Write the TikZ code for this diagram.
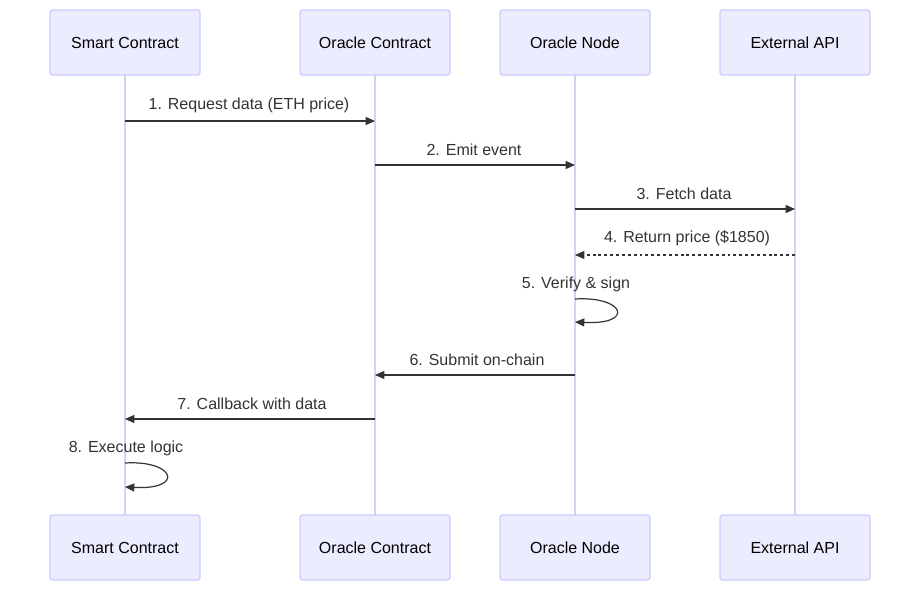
\documentclass[tikz,border=0pt]{standalone}
\usepackage{fontspec}
\setmainfont{Liberation Sans}
\usetikzlibrary{arrows.meta}
\definecolor{boxfill}{HTML}{ECECFF}
\definecolor{boxline}{HTML}{CCCCFF}
\definecolor{life}{HTML}{D6D0F0}
\definecolor{txt}{HTML}{333333}
\begin{document}
\begin{tikzpicture}[x=0.75pt,y=-0.75pt,
  actor/.style={draw=boxline,fill=boxfill,line width=1pt,rounded corners=2pt,minimum width=150*0.75pt,minimum height=65*0.75pt,inner sep=0pt,font=\fontsize{12}{14}\selectfont,text=black},
  lifeline/.style={draw=life,line width=1.5pt},
  msg/.style={draw=txt,line width=0.9pt,-{Triangle[length=7pt,width=6pt]}},
  reply/.style={msg,dash pattern=on 2.2pt off 2.2pt},
  lbl/.style={font=\fontsize{12}{14}\selectfont,text=txt}]
\useasboundingbox (0,0) rectangle (920,591);
\foreach \n/\x/\t in {sc/125/Smart Contract, oc/375/Oracle Contract, on/575/Oracle Node, api/795/External API}{
  \draw[lifeline] (\x,75) -- (\x,515);
  \node[actor] (\n top) at (\x,42.5) {\t};
  \node[actor] (\n bot) at (\x,547.5) {\t};
}
\foreach \n/\x in {sc/125,oc/375,on/575,api/795}{
  \foreach \y in {121,165,209,255,299,322,375,419,463,487}{
    \coordinate (\n\y) at (\x,\y);
  }
}
\draw[msg] (sc121) -- (oc121);
\node[lbl] (l1) at (249,105) {1. Request data (ETH price)};
\draw[msg] (oc165) -- (on165);
\node[lbl] (l2) at (474,150) {2. Emit event};
\draw[msg] (on209) -- (api209);
\node[lbl] (l3) at (684,194) {3. Fetch data};
\draw[reply] (api255) -- (on255);
\node[lbl] (l4) at (687,238) {4. Return price (\$1850)};
\draw[msg] (on299) .. controls (625,296) and (635,325) .. (on322);
\node[lbl] (l5) at (576,284) {5. Verify \& sign};
\draw[msg] (on375) -- (oc375);
\node[lbl] (l6) at (477,360) {6. Submit on-chain};
\draw[msg] (oc419) -- (sc419);
\node[lbl] (l7) at (252,404) {7. Callback with data};
\draw[msg] (sc463) .. controls (175,460) and (185,490) .. (sc487);
\node[lbl] (l8) at (126,448) {8. Execute logic};
\end{tikzpicture}
\end{document}
